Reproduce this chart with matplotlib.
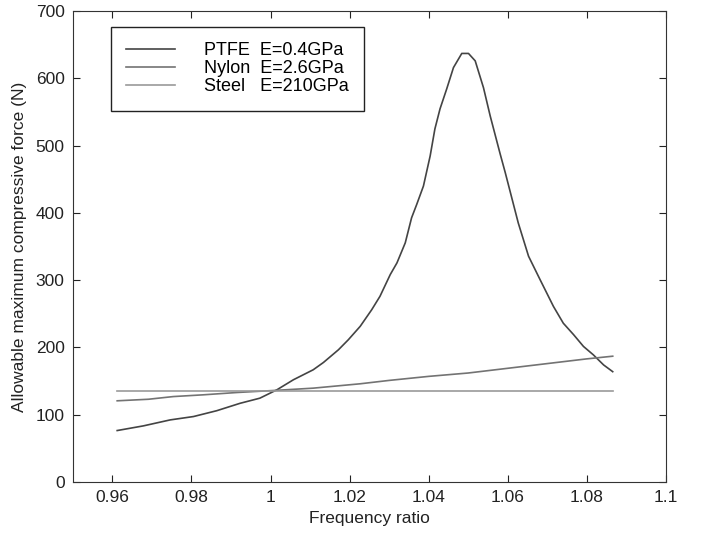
import matplotlib
matplotlib.use('Agg')
import matplotlib.pyplot as plt

plt.rcParams['font.family'] = ['Liberation Sans', 'DejaVu Sans']

# PTFE E=0.4GPa
ptfe_x = [0.9612, 0.9678, 0.9746, 0.9805, 0.9864, 0.9923, 0.9973, 1.0016, 1.0058,
          1.0108, 1.0134, 1.0172, 1.0197, 1.0227, 1.0256, 1.0277, 1.0303, 1.0320,
          1.0341, 1.0357, 1.0370, 1.0387, 1.0404, 1.0416, 1.0429, 1.0446, 1.0463,
          1.0484, 1.0501, 1.0518, 1.0539, 1.0556, 1.0581, 1.0594, 1.0627, 1.0653,
          1.0682, 1.0716, 1.0741, 1.0767, 1.0792, 1.0817, 1.0843, 1.0866]
ptfe_y = [76.5, 83.4, 92.3, 97.3, 106, 117, 124.6, 137, 152,
          166.8, 177.7, 196.6, 211.5, 231.4, 256, 276, 308.3, 325.7,
          355.5, 392.7, 412.6, 439.9, 484.6, 524.8, 554.7, 584.5, 616,
          637, 637, 626, 586, 544, 488, 460, 385, 335.6,
          301, 261, 236, 219, 201.5, 189, 174, 164]

# Nylon E=2.6GPa
nylon_x = [0.9612, 0.9691, 0.9754, 0.9830, 0.9914, 1.0007, 1.0108, 1.0227, 1.03,
           1.04, 1.05, 1.06, 1.07, 1.08, 1.0866]
nylon_y = [120.7, 123, 127, 129.6, 133, 136, 139.5, 146, 151,
           157, 162, 169, 176, 183, 187]

# Steel E=210GPa
steel_x = [0.9612, 1.0866]
steel_y = [135.5, 135.5]

fig = plt.figure(figsize=(7.15, 5.37), dpi=100)
ax = fig.add_axes([0.102, 0.1024, 0.829, 0.877])

ax.plot(ptfe_x, ptfe_y, color='#444444', lw=1.2, label='PTFE  E=0.4GPa')
ax.plot(nylon_x, nylon_y, color='#737373', lw=1.2, label='Nylon  E=2.6GPa')
ax.plot(steel_x, steel_y, color='#999999', lw=1.2, label='Steel   E=210GPa')

ax.set_xlim(0.95, 1.1)
ax.set_ylim(0, 700)
ax.set_xticks([0.96, 0.98, 1.0, 1.02, 1.04, 1.06, 1.08, 1.1])
ax.set_xticklabels(['0.96', '0.98', '1', '1.02', '1.04', '1.06', '1.08', '1.1'])
ax.set_yticks(range(0, 701, 100))
ax.tick_params(direction='in', top=True, right=True, length=5, labelsize=12.5,
               colors='#222222', pad=6)
for s in ax.spines.values():
    s.set_color('#333333')

ax.set_xlabel('Frequency ratio', fontsize=12.5, color='#222222', labelpad=4)
ax.set_ylabel('Allowable maximum compressive force (N)', fontsize=12.5, color='#222222', labelpad=6)

leg = ax.legend(loc='upper left', bbox_to_anchor=(0.064, 0.966), fontsize=13,
                fancybox=False, edgecolor='#222222', framealpha=1,
                handlelength=2.7, handletextpad=1.6, borderpad=0.85, labelspacing=0.05,
                borderaxespad=0)
leg.get_frame().set_linewidth(1.0)

fig.savefig('out.png', dpi=100)
